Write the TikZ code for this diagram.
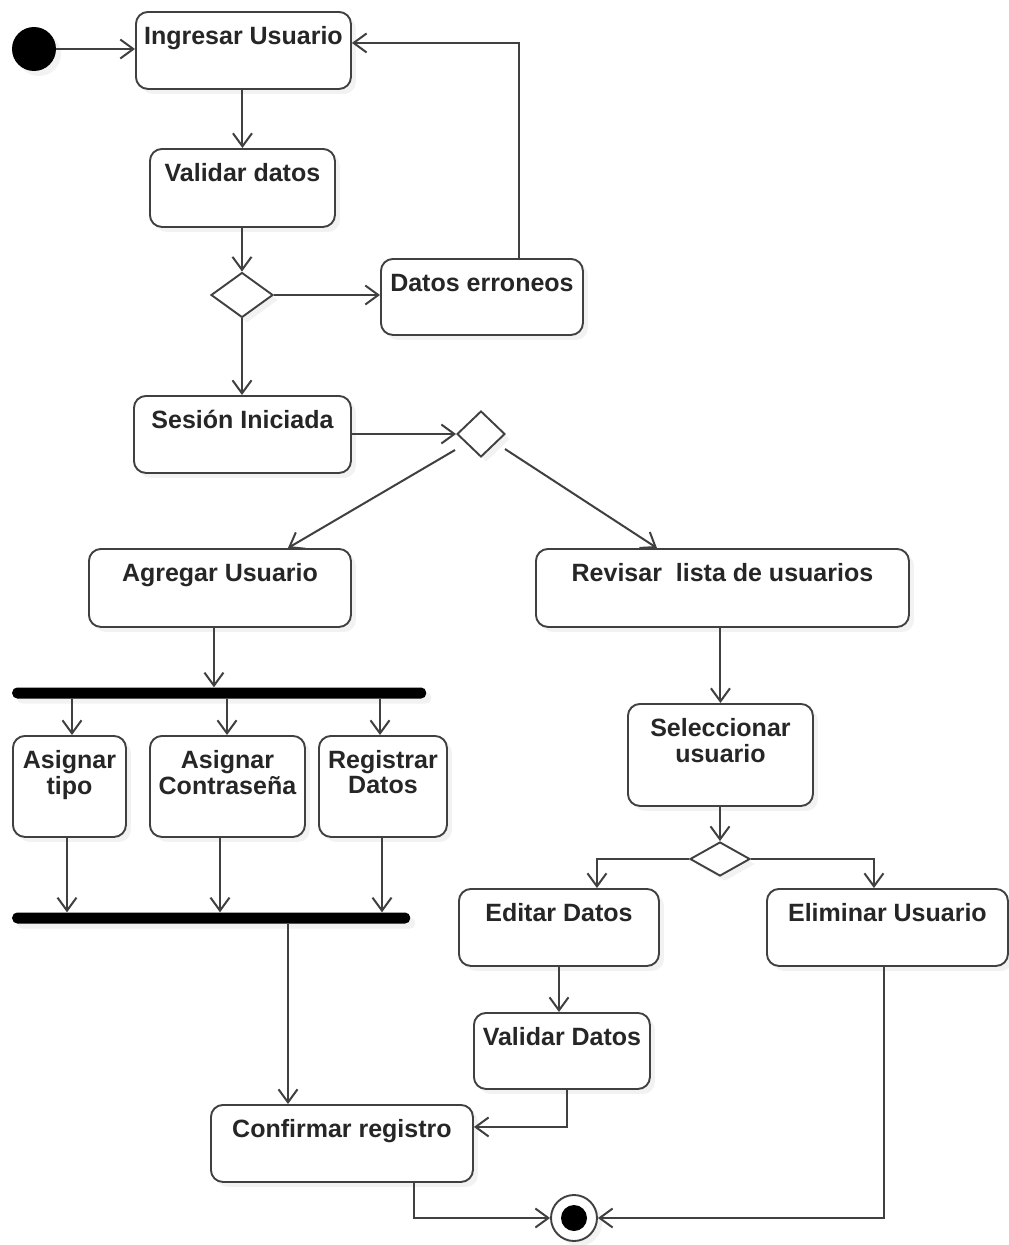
\documentclass[tikz,border=0pt]{standalone}
\usepackage{fontspec}
\setmainfont{Liberation Sans}
\usetikzlibrary{arrows.meta,shapes.geometric,shadows,calc}
\definecolor{ln}{HTML}{404040}
\definecolor{tx}{HTML}{262626}
\newcommand{\twoline}[2]{\begin{tabular}[t]{@{}c@{}}#1\\#2\end{tabular}}
\tikzset{
  shd/.style={drop shadow={shadow xshift=5pt, shadow yshift=-5pt, opacity=0.10}},
  act/.style={draw=ln, line width=1.9pt, rounded corners=12pt, fill=white,
    inner sep=0pt, anchor=north west, align=center, text=tx,
    font=\fontsize{25}{25}\selectfont\bfseries, text height=33pt, shd},
  dec/.style={diamond, draw=ln, line width=1.9pt, fill=white, inner sep=0pt, shd},
  bar/.style={fill=black, rounded corners=5pt, minimum height=11pt, inner sep=0pt, anchor=west, shd},
  arr/.style={draw=ln, line width=2pt, -{Straight Barb[length=13pt,width=19pt]}}
}
\begin{document}
\begin{tikzpicture}[x=1pt,y=-1pt]
\useasboundingbox[fill=white] (0,0) rectangle (1009,1245);

% initial
\node[circle, fill=black, minimum size=44pt, inner sep=0pt, shd] (start) at (34,49) {};

% activities
\node[act, minimum width=215, text depth=44pt] (ingresar) at (135,11) {Ingresar Usuario};
\node[act, minimum width=185, text depth=45pt] (validar1) at (149,148) {Validar datos};
\node[dec, minimum width=62, minimum height=45] (d1) at (242,295) {};
\node[act, minimum width=202, text depth=43pt] (erroneos) at (380,258) {Datos erroneos};
\node[act, minimum width=217, text depth=44pt] (sesion) at (133,395) {Sesión Iniciada};
\node[dec, minimum width=48, minimum height=46] (d2) at (481,434) {};
\node[act, minimum width=262, text depth=45pt] (agregar) at (88,548) {Agregar Usuario};
\node[act, minimum width=373, text depth=45pt] (revisar) at (535,548) {Revisar\ \ lista de usuarios};

\node[bar, minimum width=414] (bar1) at (12,693) {};
\node[act, minimum width=113, text depth=68pt] (tipo) at (12,735) {\twoline{Asignar}{tipo}};
\node[act, minimum width=155, text depth=68pt] (contra) at (149,735) {\twoline{Asignar}{Contraseña}};
\node[act, minimum width=128, text depth=68pt] (registrar) at (318,735) {\twoline{Registrar}{Datos}};
\node[bar, minimum width=398] (bar2) at (12,918) {};

\node[act, minimum width=185, text depth=69pt] (selec) at (627,703) {\twoline{Seleccionar}{usuario}};
\node[dec, minimum width=60, minimum height=34] (d3) at (720,859) {};
\node[act, minimum width=200, text depth=44pt] (editar) at (458,888) {Editar Datos};
\node[act, minimum width=241, text depth=44pt] (eliminar) at (766,888) {Eliminar Usuario};
\node[act, minimum width=176, text depth=43pt] (validar2) at (473,1012) {Validar Datos};
\node[act, minimum width=262, text depth=44pt] (confirmar) at (210,1104) {Confirmar registro};

% final
\node[circle, draw=ln, line width=1.9pt, fill=white, minimum size=46pt, inner sep=0pt, shd] (final) at (574,1218) {};
\node[circle, fill=black, minimum size=26pt, inner sep=0pt] (finalin) at (final.center) {};

% connectors
\draw[arr] (start.east) -- (ingresar.west |- start.east);
\draw[arr] (ingresar.south -| validar1.north) -- (validar1.north);
\draw[arr] (validar1.south -| d1.north) -- (d1.north);
\draw[arr] (d1.east) -- (erroneos.west |- d1.east);
\draw[arr] ([xshift=37pt]erroneos.north) |- ([yshift=7.5pt]ingresar.east);
\draw[arr] (d1.south) -- (d1.south |- sesion.north);
\draw[arr] (sesion.east |- d2.west) -- (d2.west);
\coordinate (dl) at ($(d2.center)+(-26,16)$);
\coordinate (dr) at ($(d2.center)+(24,15)$);
\draw[arr] (dl) -- ([xshift=68pt]agregar.north);
\draw[arr] (dr) -- ([xshift=-65.5pt]revisar.north);

\draw[arr] ([xshift=-6pt]agregar.south) -- ([xshift=-6pt]agregar.south |- bar1.north);
\draw[arr] (bar1.south -| 72,0) -- (tipo.north -| 72,0);
\draw[arr] (bar1.south -| 227,0) -- (contra.north -| 227,0);
\draw[arr] (bar1.south -| 380,0) -- (registrar.north -| 380,0);
\draw[arr] (tipo.south -| 67,0) -- (bar2.north -| 67,0);
\draw[arr] (contra.south -| 220,0) -- (bar2.north -| 220,0);
\draw[arr] (registrar.south -| 382,0) -- (bar2.north -| 382,0);
\draw[arr] (bar2.south -| 288,0) -- (confirmar.north -| 288,0);

\draw[arr] (revisar.south -| selec.north) -- (selec.north);
\draw[arr] (selec.south -| d3.north) -- (d3.north);
\draw[arr] (d3.west) -| ([xshift=38pt]editar.north);
\draw[arr] (d3.east) -| ([xshift=-13.5pt]eliminar.north);
\draw[arr] (editar.south -| 559,0) -- (validar2.north -| 559,0);
\draw[arr] ([xshift=5pt]validar2.south) |- ([yshift=16.5pt]confirmar.east);
\draw[arr] ([xshift=72pt]confirmar.south) |- (final.west);
\draw[arr] ([xshift=-3pt]eliminar.south) |- (final.east);
\end{tikzpicture}
\end{document}
